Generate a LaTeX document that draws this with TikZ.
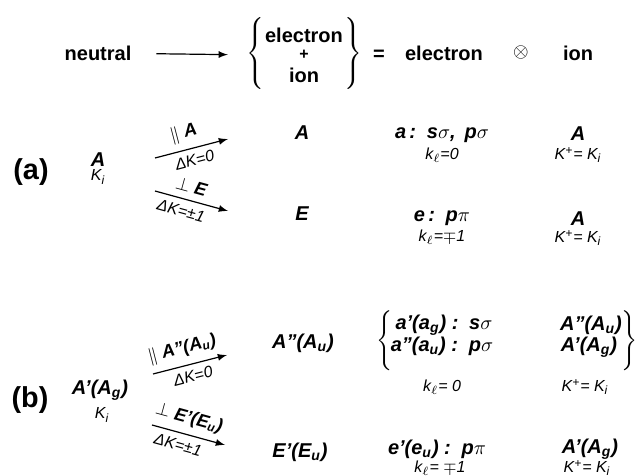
\documentclass[tikz,border=0pt]{standalone}
\usepackage{fontspec}
\setmainfont{Liberation Sans}

\begin{document}
\begin{tikzpicture}[x=0.5pt, y=-0.5pt, >=latex,
  big/.style={font=\bfseries},
  sym/.style={font=\bfseries\itshape},
  small/.style={font=\footnotesize\itshape},
  arlab/.style={font=\small\bfseries\itshape, inner sep=3.5pt},
  arsub/.style={font=\footnotesize\itshape, inner sep=3pt},
  tag/.style={font=\Large\bfseries}]
  \useasboundingbox (0,0) rectangle (639,476);
  % top line
  \node[big] (neutral) at (98,53) {neutral};
  \node[big] (elecA) at (304,35) {electron};
  \node[font=\footnotesize\bfseries] (plus) at (304,55) {+};
  \node[big] (ionA) at (304,75) {ion};
  \node (lbrace) at (257,55) {$\left\{\vrule height 17pt depth 17pt width 0pt\right.$};
  \node (rbrace) at (352,55) {$\left.\vrule height 17pt depth 17pt width 0pt\right\}$};
  \node[big] (eq) at (379,55) {=};
  \node[big] (elecB) at (444,53) {electron};
  \node (otimes) at (521,53) {$\otimes$};
  \node[big] (ionB) at (578,53) {ion};
  \draw[->, semithick, shorten <=9pt, shorten >=6pt] (neutral) -- (lbrace);

  % (a)
  \node[tag] (taga) at (31,172) {(a)};
  \node[sym] (srcA) at (98,160) {A};
  \node[small] (srcK) at (98,177) {K\textsubscript{i}};
  \coordinate (a1s) at (155,158);
  \coordinate (a1e) at (228,139);
  \coordinate (a2s) at (155,191);
  \coordinate (a2e) at (228,211);
  \draw[->, semithick] (a1s) -- (a1e)
    node[pos=0.45, above, sloped, arlab] {$\parallel$ A}
    node[midway, below, sloped, arsub] {ΔK=0};
  \draw[->, semithick] (a2s) -- (a2e)
    node[pos=0.45, above, sloped, arlab] {$\perp$ E}
    node[pos=0.4, below, sloped, arsub] {ΔK=±1};
  \node[sym] (tgtA) at (302,133) {A};
  \node[sym] (tgtE) at (302,214) {E};
  \node[sym] (elA) at (442,135) {a\,:\, s$\sigma$,\, p$\sigma$};
  \node[small] (klA) at (442,155) {k\textsubscript{$\ell$}=0};
  \node[sym] (ioA) at (578,134) {A};
  \node[small] (KpA) at (578,155) {K\textsuperscript{+}= K\textsubscript{i}};
  \node[sym] (elE) at (442,218) {e\,:\, p$\pi$};
  \node[small] (klE) at (442,237) {k\textsubscript{$\ell$}=$\mp$1};
  \node[sym] (ioE) at (578,219) {A};
  \node[small] (KpE) at (578,238) {K\textsuperscript{+}= K\textsubscript{i}};

  % (b)
  \node[tag] (tagb) at (30,400) {(b)};
  \node[sym] (srcB) at (100,390) {A'(A\textsubscript{g})};
  \node[small] (srcKb) at (102,415) {K\textsubscript{i}};
  \coordinate (b1s) at (153,374);
  \coordinate (b1e) at (227,355);
  \coordinate (b2s) at (152,425);
  \coordinate (b2e) at (225,445);
  \draw[->, semithick] (b1s) -- (b1e)
    node[pos=0.45, above, sloped, arlab] {$\parallel$ A''(A\textsubscript{u})}
    node[midway, below, sloped, arsub] {ΔK=0};
  \draw[->, semithick] (b2s) -- (b2e)
    node[pos=0.45, above, sloped, arlab] {$\perp$ E'(E\textsubscript{u})}
    node[pos=0.4, below, sloped, arsub] {ΔK=±1};
  \node[sym] (tgtAu) at (303,343) {A''(A\textsubscript{u})};
  \node[sym] (tgtEu) at (300,452) {E'(E\textsubscript{u})};
  \node (lbraceb) at (386,341) {$\left\{\vrule height 13pt depth 13pt width 0pt\right.$};
  \node (rbraceb) at (628,341) {$\left.\vrule height 13pt depth 13pt width 0pt\right\}$};
  \node[sym] (elAg) at (444,325) {a'(a\textsubscript{g}) :\, s$\sigma$};
  \node[sym] (elAu) at (442,346) {a''(a\textsubscript{u}) :\, p$\sigma$};
  \node[sym] (ioAu) at (591,325) {A''(A\textsubscript{u})};
  \node[sym] (ioAg) at (589,347) {A'(A\textsubscript{g})};
  \node[small] (klB) at (442,387) {k\textsubscript{$\ell$}= 0};
  \node[small] (KpB) at (585,387) {K\textsuperscript{+}= K\textsubscript{i}};
  \node[sym] (elEu) at (437,449) {e'(e\textsubscript{u}) :\, p$\pi$};
  \node[sym] (ioEg) at (590,449) {A'(A\textsubscript{g})};
  \node[small] (klEu) at (440,468) {k\textsubscript{$\ell$}= $\mp$1};
  \node[small] (KpEu) at (587,468) {K\textsuperscript{+}= K\textsubscript{i}};
\end{tikzpicture}
\end{document}
